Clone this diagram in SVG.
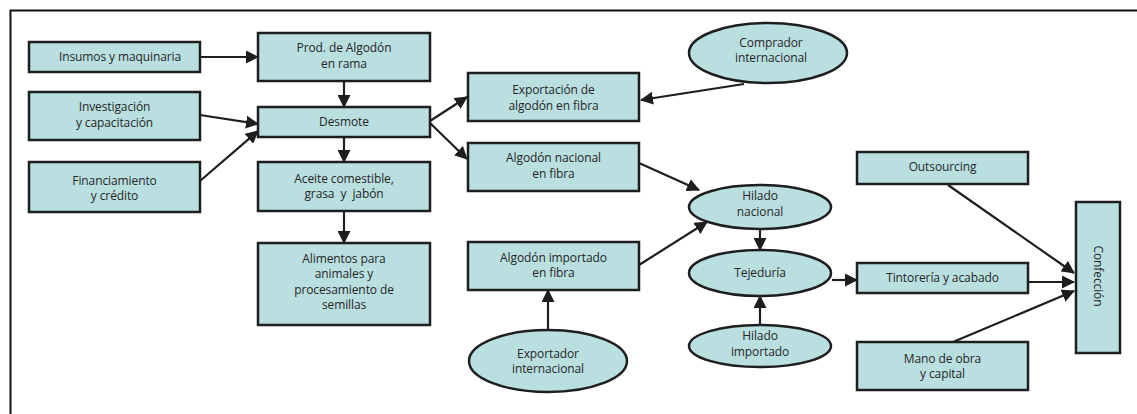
<svg xmlns="http://www.w3.org/2000/svg" width="1137" height="414" viewBox="0 0 1137 414">
<defs>
<style>
.b{fill:#b9dfe1;stroke:#1e1e1e;stroke-width:2.5}
.t{font-family:"Open Sans","Noto Sans",sans-serif;font-size:12px;fill:#262626;text-anchor:middle;letter-spacing:-0.1px;white-space:pre}
.c{stroke:#1e1e1e;stroke-width:2.2;fill:none;marker-end:url(#ah)}
</style>
<marker id="ah" markerUnits="userSpaceOnUse" markerWidth="13" markerHeight="13" viewBox="0 0 13 13" refX="12" refY="6.5" orient="auto">
<path d="M0,0 L13,6.5 L0,13 Z" fill="#1e1e1e"/>
</marker>
</defs>
<rect width="1137" height="414" fill="#fff"/>
<path d="M10.5,420 V10.5 H1140" fill="none" stroke="#111" stroke-width="2"/>

<g id="connectors">
<line class="c" x1="200" y1="57" x2="258" y2="57"/>
<line class="c" x1="344" y1="81" x2="344" y2="107"/>
<line class="c" x1="200" y1="115" x2="258" y2="124"/>
<line class="c" x1="200" y1="181" x2="258" y2="131"/>
<line class="c" x1="344" y1="137" x2="344" y2="162"/>
<line class="c" x1="344" y1="211" x2="344" y2="243"/>
<line class="c" x1="430" y1="121" x2="467" y2="97"/>
<line class="c" x1="430" y1="123" x2="467" y2="159"/>
<line class="c" x1="744" y1="84" x2="641" y2="100"/>
<line class="c" x1="639" y1="163" x2="699" y2="190"/>
<line class="c" x1="639" y1="265" x2="707" y2="222"/>
<line class="c" x1="760" y1="229" x2="760" y2="250"/>
<line class="c" x1="760" y1="325" x2="760" y2="296"/>
<line class="c" x1="548" y1="330" x2="548" y2="290"/>
<line class="c" x1="832" y1="280" x2="857" y2="280"/>
<line class="c" x1="948" y1="185" x2="1074" y2="273"/>
<line class="c" x1="1028" y1="282" x2="1074" y2="282"/>
<line class="c" x1="953" y1="342" x2="1074" y2="291"/>
</g>

<g id="insumos"><rect class="b" x="29" y="42" width="171" height="30"/><text class="t" x="120" y="61">Insumos y maquinaria</text></g>
<g id="prod"><rect class="b" x="258" y="33" width="172" height="48"/><text class="t" x="344" y="52">Prod. de Algodón</text><text class="t" x="344" y="68">en rama</text></g>
<g id="investigacion"><rect class="b" x="29" y="92" width="171" height="48"/><text class="t" x="114.5" y="111">Investigación</text><text class="t" x="114.5" y="127">y capacitación</text></g>
<g id="desmote"><rect class="b" x="258" y="107" width="172" height="30"/><text class="t" x="344" y="126">Desmote</text></g>
<g id="financiamiento"><rect class="b" x="29" y="162" width="171" height="50"/><text class="t" x="114.5" y="185">Financiamiento</text><text class="t" x="114.5" y="200">y crédito</text></g>
<g id="aceite"><rect class="b" x="258" y="162" width="172" height="49"/><text class="t" x="344" y="183">Aceite comestible,</text><text class="t" x="344" y="198">grasa  y  jabón</text></g>
<g id="alimentos"><rect class="b" x="258" y="243" width="172" height="82"/><text class="t" x="344" y="263">Alimentos para</text><text class="t" x="344" y="278">animales y</text><text class="t" x="344" y="294">procesamiento de</text><text class="t" x="344" y="309">semillas</text></g>
<g id="exportacion"><rect class="b" x="468" y="73" width="171" height="48"/><text class="t" x="553.5" y="94">Exportación de</text><text class="t" x="553.5" y="110">algodón en fibra</text></g>
<g id="nacional"><rect class="b" x="468" y="143" width="171" height="48"/><text class="t" x="553.5" y="162">Algodón nacional</text><text class="t" x="553.5" y="178">en fibra</text></g>
<g id="comprador"><ellipse class="b" cx="768" cy="53" rx="79" ry="30"/><text class="t" x="771" y="47">Comprador</text><text class="t" x="771" y="62">internacional</text></g>
<g id="importado"><rect class="b" x="468" y="242" width="171" height="48"/><text class="t" x="553.5" y="262">Algodón importado</text><text class="t" x="553.5" y="277">en fibra</text></g>
<g id="exportador"><ellipse class="b" cx="548" cy="361" rx="79" ry="31"/><text class="t" x="548" y="358">Exportador</text><text class="t" x="548" y="373">internacional</text></g>
<g id="hiladonac"><ellipse class="b" cx="760" cy="207" rx="71" ry="22"/><text class="t" x="760" y="200">Hilado</text><text class="t" x="760" y="215.5">nacional</text></g>
<g id="tejeduria"><ellipse class="b" cx="760" cy="273" rx="71" ry="23"/><text class="t" x="760" y="277">Tejeduría</text></g>
<g id="hiladoimp"><ellipse class="b" cx="760" cy="346" rx="71" ry="21"/><text class="t" x="760" y="340">Hilado</text><text class="t" x="760" y="355.5">importado</text></g>
<g id="outsourcing"><rect class="b" x="857" y="152" width="171" height="32"/><text class="t" x="942.5" y="171">Outsourcing</text></g>
<g id="tintoreria"><rect class="b" x="857" y="263" width="171" height="30"/><text class="t" x="942.5" y="282">Tintorería y acabado</text></g>
<g id="mano"><rect class="b" x="857" y="342" width="171" height="48"/><text class="t" x="942.5" y="363">Mano de obra</text><text class="t" x="942.5" y="378">y capital</text></g>
<g id="confeccion"><rect class="b" x="1076" y="202" width="44" height="151"/><text class="t" x="0" y="0" transform="translate(1094,276) rotate(90)">Confección</text></g>
</svg>
